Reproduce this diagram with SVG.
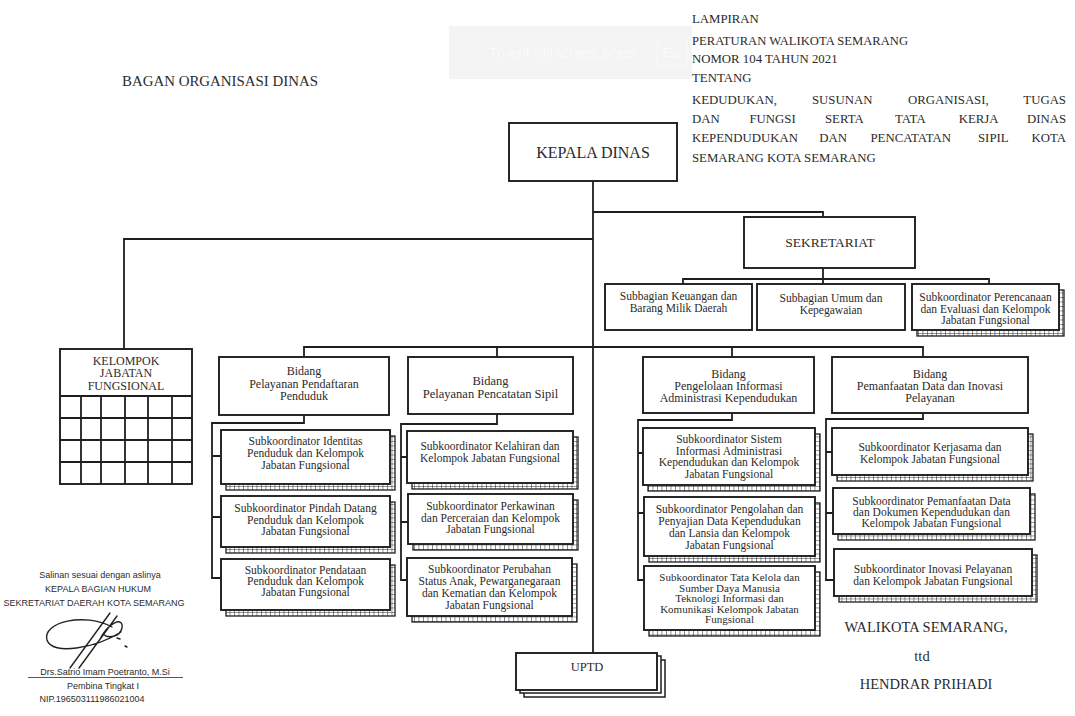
<svg xmlns="http://www.w3.org/2000/svg" width="1075" height="716" viewBox="0 0 1075 716">
<style>
.box{fill:#fff;stroke:#1e1e1e;stroke-width:1.9}
.ln{fill:none;stroke:#1e1e1e;stroke-width:1.8}
.sh{fill:url(#ladder);stroke:#1e1e1e;stroke-width:1.3}
.up{fill:#fff;stroke:#1e1e1e;stroke-width:1.5}
.t{font-family:"Liberation Serif","Times New Roman",serif;fill:#2b2b2b;text-anchor:middle}
.s{font-size:11.5px}
.b{font-size:12px}
.h{font-family:"Liberation Serif","Times New Roman",serif;fill:#2b2b2b;font-size:12.8px}
.sig{font-family:"Liberation Sans",Arial,sans-serif;fill:#2b2b2b;font-size:9px;text-anchor:middle}
</style>
<defs>
<pattern id="ladder" patternUnits="userSpaceOnUse" width="4.5" height="4.5">
<rect width="4.5" height="4.5" fill="#fff"/>
<path d="M0 0H4.5M0 0V4.5" stroke="#222" stroke-width="1"/>
</pattern>
</defs>
<rect width="1075" height="716" fill="#fff"/>

<!-- faint overlay -->
<g id="overlay" opacity="0.9">
<rect x="449" y="26" width="243" height="53" fill="#f3f3f3"/>
<text x="490" y="57" font-family="'Open Sans',Arial,sans-serif" font-size="13" fill="#fbfbfb">To exit full screen, press</text>
<rect x="657" y="40" width="30" height="26" fill="none" stroke="#fafafa" stroke-width="1"/>
<text x="672" y="57" font-family="'Open Sans',Arial,sans-serif" font-size="13" fill="#fbfbfb" text-anchor="middle">Esc</text>
</g>

<!-- titles -->
<text id="title" x="122" y="86" class="h" style="font-size:14px" textLength="196" lengthAdjust="spacingAndGlyphs">BAGAN ORGANISASI DINAS</text>
<g id="lampiran">
<text x="692" y="23" class="h">LAMPIRAN</text>
<text x="692" y="45" class="h" textLength="216" lengthAdjust="spacingAndGlyphs">PERATURAN WALIKOTA SEMARANG</text>
<text x="692" y="63" class="h">NOMOR 104 TAHUN  2021</text>
<text x="692" y="82" class="h">TENTANG</text>
<text y="104" class="h"><tspan x="692">KEDUDUKAN,</tspan><tspan x="812">SUSUNAN</tspan><tspan x="908">ORGANISASI,</tspan></text>
<text x="1066" y="104" class="h" text-anchor="end">TUGAS</text>
<text y="123" class="h"><tspan x="692">DAN</tspan><tspan x="749.5">FUNGSI</tspan><tspan x="825">SERTA</tspan><tspan x="895">TATA</tspan><tspan x="958.7">KERJA</tspan></text>
<text x="1066" y="123" class="h" text-anchor="end">DINAS</text>
<text y="142" class="h"><tspan x="692">KEPENDUDUKAN</tspan><tspan x="819.3">DAN</tspan><tspan x="870.5">PENCATATAN</tspan><tspan x="978">SIPIL</tspan></text>
<text x="1066" y="142" class="h" text-anchor="end">KOTA</text>
<text x="692" y="162" class="h">SEMARANG KOTA SEMARANG</text>
</g>

<!-- connectors -->
<g id="connectors">
<path class="ln" d="M593 181V653"/>
<path class="ln" d="M593 212H823V217"/>
<path class="ln" d="M593 239H124V349"/>
<path class="ln" d="M823 268V284M683 284V279H989V284"/>
<path class="ln" d="M304 357V347H923V357M497 347V357M732 347V357"/>
<path class="ln" d="M304 415V423H212V578H221M212 456H221M212 517H221"/>
<path class="ln" d="M497 414V424H401V580H407M401 457H407M401 522H408"/>
<path class="ln" d="M732 413V420H638V580H644M638 453H643M638 513H644"/>
<path class="ln" d="M923 413V419H826V580H834M826 452H832M826 513H833"/>
</g>

<g id="kepala">
<rect class="box" x="509" y="123" width="168" height="58"/>
<text class="t" x="593" y="158" style="font-size:16px">KEPALA DINAS</text>
</g>

<g id="sekretariat">
<rect class="box" x="744" y="217" width="171" height="51"/>
<text class="t" x="830" y="247" style="font-size:13.5px">SEKRETARIAT</text>
</g>

<g id="sub-keuangan">
<rect class="box" x="605" y="284" width="147" height="46"/>
<text class="t s" x="678.5" y="300">Subbagian Keuangan dan</text>
<text class="t s" x="678.5" y="312">Barang Milik Daerah</text>
</g>
<g id="sub-umum">
<rect class="box" x="757" y="284" width="148" height="46"/>
<text class="t s" x="831" y="302">Subbagian Umum dan</text>
<text class="t s" x="831" y="314">Kepegawaian</text>
</g>
<g id="sub-perencanaan">
<rect class="sh" x="917" y="290" width="147" height="46"/>
<rect class="box" x="912" y="284" width="147" height="46"/>
<text class="t s" x="985.5" y="301">Subkoordinator Perencanaan</text>
<text class="t s" x="985.5" y="312.5">dan Evaluasi dan Kelompok</text>
<text class="t s" x="985.5" y="324">Jabatan Fungsional</text>
</g>

<g id="kelompok">
<rect class="box" x="60" y="349" width="132" height="135"/>
<path class="ln" d="M60 396H192M60 418H192M60 440H192M60 462H192M81 396V484M101 396V484M125 396V484M148 396V484M172 396V484"/>
<text class="t" x="126" y="365" style="font-size:12px">KELOMPOK</text>
<text class="t" x="126" y="377" style="font-size:12px">JABATAN</text>
<text class="t" x="126" y="390" style="font-size:12px">FUNGSIONAL</text>
</g>

<g id="bidang-pendaftaran">
<rect class="box" x="219" y="357" width="170" height="58"/>
<text class="t b" x="304" y="375">Bidang</text>
<text class="t b" x="304" y="387.5">Pelayanan Pendaftaran</text>
<text class="t b" x="304" y="400">Penduduk</text>
</g>
<g id="bidang-pencatatan">
<rect class="box" x="408" y="357" width="165" height="57"/>
<text class="t b" x="490.5" y="385" style="font-size:12.5px">Bidang</text>
<text class="t b" x="490.5" y="397.5" style="font-size:12.5px">Pelayanan Pencatatan Sipil</text>
</g>
<g id="bidang-informasi">
<rect class="box" x="643" y="357" width="171" height="56"/>
<text class="t b" x="728.5" y="378">Bidang</text>
<text class="t b" x="728.5" y="390">Pengelolaan Informasi</text>
<text class="t b" x="728.5" y="402">Administrasi Kependudukan</text>
</g>
<g id="bidang-pemanfaatan">
<rect class="box" x="832" y="357" width="196" height="56"/>
<text class="t b" x="930" y="378">Bidang</text>
<text class="t b" x="930" y="390">Pemanfaatan Data dan Inovasi</text>
<text class="t b" x="930" y="402">Pelayanan</text>
</g>

<!-- column 1 -->
<g id="sub-identitas">
<rect class="sh" x="226" y="436" width="169" height="54"/>
<rect class="box" x="221" y="430" width="169" height="54"/>
<text class="t s" x="305.5" y="445">Subkoordinator Identitas</text>
<text class="t s" x="305.5" y="457">Penduduk  dan Kelompok</text>
<text class="t s" x="305.5" y="469">Jabatan Fungsional</text>
</g>
<g id="sub-pindah">
<rect class="sh" x="226" y="502" width="169" height="51"/>
<rect class="box" x="221" y="496" width="169" height="51"/>
<text class="t s" x="305.5" y="512">Subkoordinator Pindah Datang</text>
<text class="t s" x="305.5" y="523.5">Penduduk  dan Kelompok</text>
<text class="t s" x="305.5" y="535">Jabatan Fungsional</text>
</g>
<g id="sub-pendataan">
<rect class="sh" x="226" y="565" width="169" height="51"/>
<rect class="box" x="221" y="559" width="169" height="51"/>
<text class="t s" x="305.5" y="574">Subkoordinator Pendataan</text>
<text class="t s" x="305.5" y="585">Penduduk dan Kelompok</text>
<text class="t s" x="305.5" y="596">Jabatan Fungsional</text>
</g>

<!-- column 2 -->
<g id="sub-kelahiran">
<rect class="sh" x="412" y="437" width="166" height="52"/>
<rect class="box" x="407" y="431" width="166" height="52"/>
<text class="t s" x="490" y="450">Subkoordinator Kelahiran dan</text>
<text class="t s" x="490" y="461.5">Kelompok Jabatan Fungsional</text>
</g>
<g id="sub-perkawinan">
<rect class="sh" x="413" y="500" width="165" height="50"/>
<rect class="box" x="408" y="494" width="165" height="50"/>
<text class="t s" x="490.5" y="510">Subkoordinator Perkawinan</text>
<text class="t s" x="490.5" y="521.5">dan Perceraian dan Kelompok</text>
<text class="t s" x="490.5" y="533">Jabatan Fungsional</text>
</g>
<g id="sub-perubahan">
<rect class="sh" x="412" y="564" width="165" height="58"/>
<rect class="box" x="407" y="558" width="165" height="58"/>
<text class="t s" x="489.5" y="573">Subkoordinator Perubahan</text>
<text class="t s" x="489.5" y="585">Status Anak, Pewarganegaraan</text>
<text class="t s" x="489.5" y="597">dan Kematian dan Kelompok</text>
<text class="t s" x="489.5" y="608.5">Jabatan Fungsional</text>
</g>

<!-- column 3 -->
<g id="sub-sistem">
<rect class="sh" x="648" y="434" width="172" height="57"/>
<rect class="box" x="643" y="428" width="172" height="57"/>
<text class="t s" x="729" y="443">Subkoordinator Sistem</text>
<text class="t s" x="729" y="454.5">Informasi Administrasi</text>
<text class="t s" x="729" y="466">Kependudukan dan Kelompok</text>
<text class="t s" x="729" y="478">Jabatan Fungsional</text>
</g>
<g id="sub-pengolahan">
<rect class="sh" x="649" y="503" width="171" height="59"/>
<rect class="box" x="644" y="497" width="171" height="59"/>
<text class="t s" x="729.5" y="513">Subkoordinator Pengolahan dan</text>
<text class="t s" x="729.5" y="525">Penyajian Data Kependudukan</text>
<text class="t s" x="729.5" y="537">dan Lansia dan Kelompok</text>
<text class="t s" x="729.5" y="548.5">Jabatan Fungsional</text>
</g>
<g id="sub-tatakelola">
<rect class="sh" x="649" y="572" width="171" height="64"/>
<rect class="box" x="644" y="566" width="171" height="64"/>
<text class="t" x="729.5" y="581" style="font-size:11px">Subkoordinator Tata Kelola dan</text>
<text class="t" x="729.5" y="591.5" style="font-size:11px">Sumber Daya Manusia</text>
<text class="t" x="729.5" y="602" style="font-size:11px">Teknologi Informasi dan</text>
<text class="t" x="729.5" y="612.5" style="font-size:11px">Komunikasi Kelompok Jabatan</text>
<text class="t" x="729.5" y="623" style="font-size:11px">Fungsional</text>
</g>

<!-- column 4 -->
<g id="sub-kerjasama">
<rect class="sh" x="837" y="434" width="196" height="47"/>
<rect class="box" x="832" y="428" width="196" height="47"/>
<text class="t s" x="930" y="451">Subkoordinator Kerjasama dan</text>
<text class="t s" x="930" y="462.5">Kelompok Jabatan Fungsional</text>
</g>
<g id="sub-pemanfaatan">
<rect class="sh" x="838" y="494" width="197" height="46"/>
<rect class="box" x="833" y="488" width="197" height="46"/>
<text class="t s" x="931.5" y="505">Subkoordinator Pemanfaatan Data</text>
<text class="t s" x="931.5" y="516">dan Dokumen Kependudukan dan</text>
<text class="t s" x="931.5" y="527">Kelompok Jabatan Fungsional</text>
</g>
<g id="sub-inovasi">
<rect class="sh" x="839" y="555" width="198" height="47"/>
<rect class="box" x="834" y="549" width="198" height="47"/>
<text class="t s" x="933" y="573">Subkoordinator Inovasi Pelayanan</text>
<text class="t s" x="933" y="584.5">dan Kelompok Jabatan Fungsional</text>
</g>

<g id="uptd">
<rect class="up" x="524" y="660" width="141" height="37"/>
<rect class="up" x="520" y="656" width="141" height="37"/>
<rect class="box" x="516" y="653" width="141" height="37"/>
<text class="t" x="587" y="671" style="font-size:12.5px">UPTD</text>
</g>

<g id="walikota">
<text class="t" x="926" y="632" style="font-size:14.5px">WALIKOTA SEMARANG,</text>
<text class="t" x="922" y="661" style="font-size:14.5px">ttd</text>
<text class="t" x="926" y="689" style="font-size:14.5px">HENDRAR PRIHADI</text>
</g>

<g id="salinan">
<text class="sig" x="100" y="578">Salinan sesuai dengan aslinya</text>
<text class="sig" x="98" y="592">KEPALA BAGIAN HUKUM</text>
<text class="sig" x="94" y="606">SEKRETARIAT DAERAH KOTA SEMARANG</text>
<path d="M112 627C85 612 42 622 47 640C52 656 96 648 121 632M70 668L110 613M79 668L117 616M99 641C108 622 124 616 122 628C120 637 108 639 103 634M117 638l3 1M125 646l2 1" fill="none" stroke="#222" stroke-width="1.4" stroke-linecap="round"/>
<text class="sig" x="105" y="675">Drs.Satrio Imam Poetranto, M.Si</text>
<path d="M28 677.5H183" stroke="#2b2b2b" stroke-width="0.8"/>
<text class="sig" x="103" y="689">Pembina Tingkat I</text>
<text class="sig" x="92" y="702">NIP.196503111986021004</text>
</g>
</svg>
